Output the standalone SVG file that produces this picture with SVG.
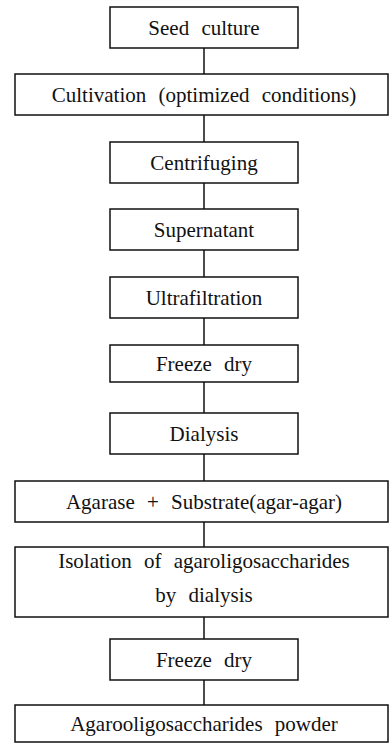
<svg xmlns="http://www.w3.org/2000/svg" width="390" height="745" viewBox="0 0 390 745">
<style>
.box{fill:#fff;stroke:#111;stroke-width:1.5}
.lbl{font-family:'Liberation Serif','Times New Roman','DejaVu Serif',serif;font-size:21px;fill:#111;text-anchor:middle;word-spacing:7px}
.conn{stroke:#111;stroke-width:1.5;fill:none}
</style>
<rect width="390" height="745" fill="#fff"/>
<g id="connectors">
<line class="conn" x1="204" y1="48" x2="204" y2="74"/>
<line class="conn" x1="204" y1="115" x2="204" y2="142"/>
<line class="conn" x1="204" y1="183" x2="204" y2="209"/>
<line class="conn" x1="204" y1="250" x2="204" y2="277"/>
<line class="conn" x1="204" y1="318" x2="204" y2="345"/>
<line class="conn" x1="204" y1="382" x2="204" y2="413"/>
<line class="conn" x1="204" y1="454" x2="204" y2="481"/>
<line class="conn" x1="204" y1="522" x2="204" y2="547"/>
<line class="conn" x1="204" y1="617" x2="204" y2="639"/>
<line class="conn" x1="204" y1="680" x2="204" y2="705"/>
</g>
<g font-family="Liberation Serif, serif">
<g id="seed"><rect class="box" x="110" y="7" width="188" height="41"/><text class="lbl" x="204" y="35">Seed culture</text></g>
<g id="cultivation"><rect class="box" x="15" y="74" width="373" height="41"/><text class="lbl" x="204" y="102">Cultivation (optimized conditions)</text></g>
<g id="centrifuging"><rect class="box" x="110" y="142" width="188" height="41"/><text class="lbl" x="204" y="170">Centrifuging</text></g>
<g id="supernatant"><rect class="box" x="110" y="209" width="188" height="41"/><text class="lbl" x="204" y="237">Supernatant</text></g>
<g id="ultrafiltration"><rect class="box" x="110" y="277" width="188" height="41"/><text class="lbl" x="204" y="305">Ultrafiltration</text></g>
<g id="freeze1"><rect class="box" x="110" y="345" width="188" height="37"/><text class="lbl" x="204" y="371">Freeze dry</text></g>
<g id="dialysis"><rect class="box" x="110" y="413" width="188" height="41"/><text class="lbl" x="204" y="441">Dialysis</text></g>
<g id="agarase"><rect class="box" x="15" y="481" width="373" height="41"/><text class="lbl" x="204" y="509">Agarase + Substrate(agar-agar)</text></g>
<g id="isolation"><rect class="box" x="15" y="547" width="373" height="70"/><text class="lbl" x="204" y="568">Isolation of agaroligosaccharides</text><text class="lbl" x="204" y="602">by dialysis</text></g>
<g id="freeze2"><rect class="box" x="110" y="639" width="188" height="41"/><text class="lbl" x="204" y="667">Freeze dry</text></g>
<g id="powder"><rect class="box" x="15" y="705" width="373" height="37"/><text class="lbl" x="204" y="731">Agarooligosaccharides powder</text></g>
</g>
</svg>
